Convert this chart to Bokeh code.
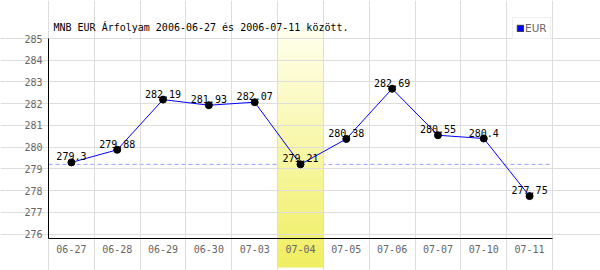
from bokeh.plotting import figure
from bokeh.models import (Range1d, FixedTicker, Label, Legend, LegendItem, ColumnDataSource)
from bokeh.core.properties import value
from bokeh.embed import file_html
from bokeh.resources import INLINE

dates = ["06-27", "06-28", "06-29", "06-30", "07-03", "07-04", "07-05", "07-06", "07-07", "07-10", "07-11"]
rates = [279.3, 279.88, 282.19, 281.93, 282.07, 279.21, 280.38, 282.69, 280.55, 280.4, 277.75]
rate_labels = ["279.3", "279.88", "282.19", "281.93", "282.07", "279.21", "280.38", "282.69", "280.55", "280.4", "277.75"]
highlight_index = 5
title_text = "MNB EUR Árfolyam 2006-06-27 és 2006-07-11 között."
series_name = "EUR"
y_ticks = [276, 277, 278, 279, 280, 281, 282, 283, 284, 285]
y_min, y_max = 275.8, 285

MONO = "DejaVu Sans Mono"
W, H = 600, 270
# plot-area box on the canvas (pixels)
PL, PR, PT, PB = 48, 552, 38, 238
n_cat = len(dates)
xs_per_px = n_cat / (PR - PL)
ys_per_px = (y_max - y_min) / (PB - PT)
x_lo = 0 - PL * xs_per_px
x_hi = n_cat + (W - PR) * xs_per_px
y_hi = y_max + PT * ys_per_px
y_lo = y_min - (H - PB) * ys_per_px

def py(px):  # canvas pixel row -> data y
    return y_max - (px - PT) * ys_per_px

xs = [i + 0.5 for i in range(n_cat)]
src = ColumnDataSource(dict(x=xs, y=rates, lab=rate_labels))

p = figure(width=W, height=H, output_backend="svg", toolbar_location=None,
           x_range=Range1d(x_lo, x_hi), y_range=Range1d(y_lo, y_hi),
           min_border=0)
p.outline_line_color = None
p.background_fill_color = "white"
p.border_fill_color = "white"

# grids
p.xgrid.ticker = FixedTicker(ticks=list(range(n_cat + 1)))
p.xgrid.bounds = (y_min, y_max)
p.ygrid.ticker = FixedTicker(ticks=y_ticks)
p.ygrid.bounds = (0, n_cat)
p.xgrid.grid_line_color = "#dddddd"
p.ygrid.grid_line_color = "#dddddd"

# axes drawn inside the full-canvas frame
p.xaxis.ticker = FixedTicker(ticks=xs)
p.xaxis.major_label_overrides = {x: d for x, d in zip(xs, dates)}
p.xaxis.fixed_location = y_min
p.xaxis.bounds = (0, n_cat)
p.yaxis.ticker = FixedTicker(ticks=y_ticks)
p.yaxis.fixed_location = 0
p.yaxis.bounds = (y_min, y_max)
for ax in (p.xaxis[0], p.yaxis[0]):
    ax.major_tick_line_color = None
    ax.minor_tick_line_color = None
    ax.major_tick_out = 0
    ax.major_tick_in = 0
    ax.minor_tick_out = 0
    ax.minor_tick_in = 0
    ax.axis_line_color = "black"
    ax.axis_line_width = 1
    ax.major_label_text_color = "#666666"
    ax.major_label_text_font = MONO
    ax.major_label_text_font_size = "10px"
p.xaxis.major_label_standoff = 6
p.yaxis.major_label_standoff = 6

# reference dashed line at highlighted day value
p.line(x=[0, n_cat], y=[rates[highlight_index]] * 2, line_color="#9999ff",
       line_dash="4 3", line_width=1, level="underlay")

# highlight gradient band (drawn over grid and dashed line)
n = 40
top_px, bot_px = 28, 267
c0 = (255, 255, 238)
c1 = (240, 238, 96)
tops, bots, cols = [], [], []
for k in range(n):
    t = (k + 0.5) / n
    col = tuple(int(round(c0[j] + (c1[j] - c0[j]) * t)) for j in range(3))
    ytop = top_px + (bot_px - top_px) * k / n
    ybot = min(top_px + (bot_px - top_px) * (k + 1) / n + 0.5, bot_px)
    tops.append(py(ytop))
    bots.append(py(ybot))
    cols.append("#%02x%02x%02x" % col)
p.quad(left=[highlight_index] * n, right=[highlight_index + 1] * n, top=tops, bottom=bots,
       fill_color=cols, line_color=None, level="underlay")

p.line("x", "y", source=src, line_color="#0000ff", line_width=1)
p.scatter("x", "y", source=src, size=7, fill_color="black", line_color="black")
p.text("x", "y", text="lab", source=src, text_font=value(MONO), text_font_size="10px",
       text_align="center", text_baseline="alphabetic", y_offset=-6, text_color="black")

# title
p.add_layout(Label(x=53, y=H - 26.7, x_units="screen", y_units="screen", text=title_text,
                   text_font=MONO, text_font_size="10px", text_color="black",
                   text_baseline="alphabetic"))

# legend (swatch renderer kept hidden; only its legend glyph is shown)
dummy = p.quad(left=xs[:1], right=xs[:1], top=rates[:1], bottom=rates[:1],
               fill_color="#0000ff", line_color="#333333", visible=False)
leg = Legend(items=[LegendItem(label=series_name, renderers=[dummy])], location=(512, H - 39),
             border_line_color="#dddddd", background_fill_color="white", background_fill_alpha=1,
             label_text_color="#666666", label_text_font="DejaVu Sans", label_text_font_size="10.5px",
             glyph_width=8, glyph_height=8, padding=3, margin=0, label_standoff=1,
             label_height=14, label_width=20, inactive_fill_alpha=0)
p.add_layout(leg, "center")

open("out.html", "w").write(file_html(p, INLINE))
